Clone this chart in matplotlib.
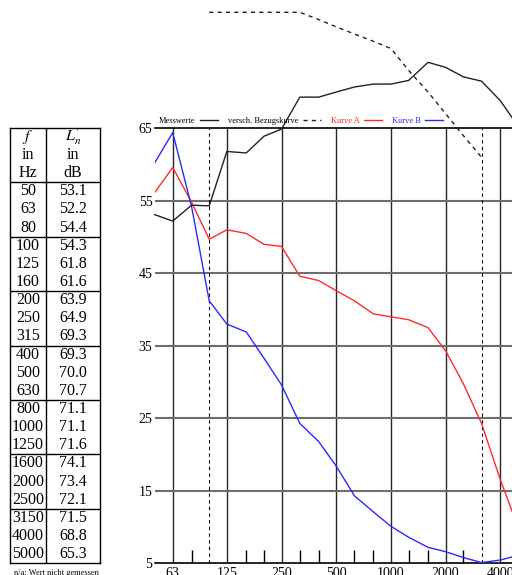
import matplotlib
matplotlib.use('Agg')
import matplotlib.pyplot as plt
import numpy as np

plt.rcParams['font.family'] = ['Liberation Serif', 'DejaVu Serif']
plt.rcParams['mathtext.fontset'] = 'stix'

# Terzband-Frequenzen und Messwerte (Trittschallpegel L'n)
freqs = [50, 63, 80, 100, 125, 160, 200, 250, 315, 400, 500, 630, 800,
         1000, 1250, 1600, 2000, 2500, 3150, 4000, 5000]
messwerte = [53.1, 52.2, 54.4, 54.3, 61.8, 61.6, 63.9, 64.9, 69.3, 69.3, 70.0,
             70.7, 71.1, 71.1, 71.6, 74.1, 73.4, 72.1, 71.5, 68.8, 65.3]

# verschobene Bezugskurve (100 - 3150 Hz)
bezug_freqs = [100, 125, 160, 200, 250, 315, 400, 500, 630, 800, 1000,
               1250, 1600, 2000, 2500, 3150]
bezug = [81, 81, 81, 81, 81, 81, 80, 79, 78, 77, 76, 73, 70, 67, 64, 61]

kurve_a = [56.1, 59.6, 54.8, 49.7, 51.0, 50.5, 49.0, 48.7, 44.6, 44.0, 42.6,
           41.2, 39.4, 39.0, 38.6, 37.5, 34.3, 29.8, 24.3, 16.5, 10.0]
kurve_b = [60.2, 64.4, 54.2, 41.2, 38.0, 36.9, 33.3, 29.6, 24.3, 21.8, 18.4,
           14.3, 12.1, 10.1, 8.6, 7.2, 6.6, 5.8, 5.1, 5.45, 6.1]

oktaven = [63, 125, 250, 500, 1000, 2000, 4000]
terz_ticks = [80, 160, 200, 315, 400, 630, 800, 1250, 1600, 2500]
grenzen = [100, 3150]
y_ticks = [5, 15, 25, 35, 45, 55, 65]

fig = plt.figure(figsize=(5.12, 5.75), dpi=100)

# --- Tabelle links ---
tab = fig.add_axes([10 / 512, 11.7 / 575, 90 / 512, 435.6 / 575])
n_rows = 3 + len(freqs)
tab.set_xlim(0, 1)
tab.set_ylim(n_rows, 0)
tab.set_xticks([])
tab.set_yticks([])
for s in tab.spines.values():
    s.set_linewidth(1.0)
tab.axvline(0.397, color='black', lw=1.0)
for k in range(3, n_rows, 3):
    tab.axhline(k, color='black', lw=1.0)

kopf_f = ['$f$', 'in', 'Hz']
kopf_l = [r'$L_{n}^{\prime}$', 'in', 'dB']
for i in range(3):
    tab.text(0.2, i + 0.5, kopf_f[i], ha='center', va='center', fontsize=11.5)
    tab.text(0.7, i + 0.5, kopf_l[i], ha='center', va='center', fontsize=11.5)
for i, (f, v) in enumerate(zip(freqs, messwerte)):
    tab.text(0.2, i + 3.5, str(f), ha='center', va='center', fontsize=11.5)
    tab.text(0.7, i + 3.5, f'{v:.1f}', ha='center', va='center', fontsize=11.5)

fig.text(56 / 512, 1 - 573 / 575, 'n/a: Wert nicht gemessen', ha='center',
         va='center', fontsize=6)

# --- Diagramm ---
ax = fig.add_axes([154.5 / 512, 11.7 / 575, 363.5 / 512, 435 / 575])
ax.set_xscale('log')
ax.set_xlim(50, 5000)
ax.set_ylim(5, 65)

ax.set_xticks(oktaven)
ax.set_xticklabels([str(o) for o in oktaven])
ax.set_xticks(terz_ticks, minor=True)
ax.set_xticklabels([], minor=True)
ax.set_yticks(y_ticks)

ax.tick_params(axis='x', which='major', length=0, pad=3, labelsize=10)
ax.tick_params(axis='x', which='minor', direction='in', length=9.4, width=1.0)
ax.tick_params(axis='y', length=0, pad=1.5, labelsize=10)

for o in oktaven:
    ax.axvline(o, color='#262626', lw=1.0, zorder=1)
for yv in y_ticks[1:-1]:
    ax.axhline(yv, color='#6e6e6e', lw=1.5, zorder=1)
for g in grenzen:
    ax.axvline(g, color='black', lw=0.8, ls=(0, (3, 3)), zorder=1)

ax.spines['left'].set_visible(False)
ax.spines['right'].set_visible(False)
ax.spines['top'].set_linewidth(1.2)
ax.spines['bottom'].set_linewidth(1.2)

ax.plot(freqs, kurve_a, color='#ff2a2a', lw=1.0, label='Kurve A', zorder=3)
ax.plot(freqs, kurve_b, color='#2a2aff', lw=1.0, label='Kurve B', zorder=3)
ax.plot(freqs, messwerte, color='#222222', lw=1.0, label='Messwerte',
        clip_on=False, zorder=4)
ax.plot(bezug_freqs, bezug, color='#222222', lw=1.0, ls=(0, (3, 3)),
        label='versch. Bezugskurve', clip_on=False, zorder=4)

handles, labels = ax.get_legend_handles_labels()
order = [2, 3, 0, 1]
leg = ax.legend([handles[i] for i in order], [labels[i] for i in order],
                loc='lower left', bbox_to_anchor=(0.012, 1.008), ncol=4,
                frameon=False, fontsize=6, markerfirst=False,
                handlelength=2.2, handletextpad=0.5, columnspacing=1.2,
                borderpad=0, borderaxespad=0)
farben = ['black', 'black', '#ff2a2a', '#2a2aff']
for t, c in zip(leg.get_texts(), farben):
    t.set_color(c)

fig.savefig('out.png', dpi=100)
